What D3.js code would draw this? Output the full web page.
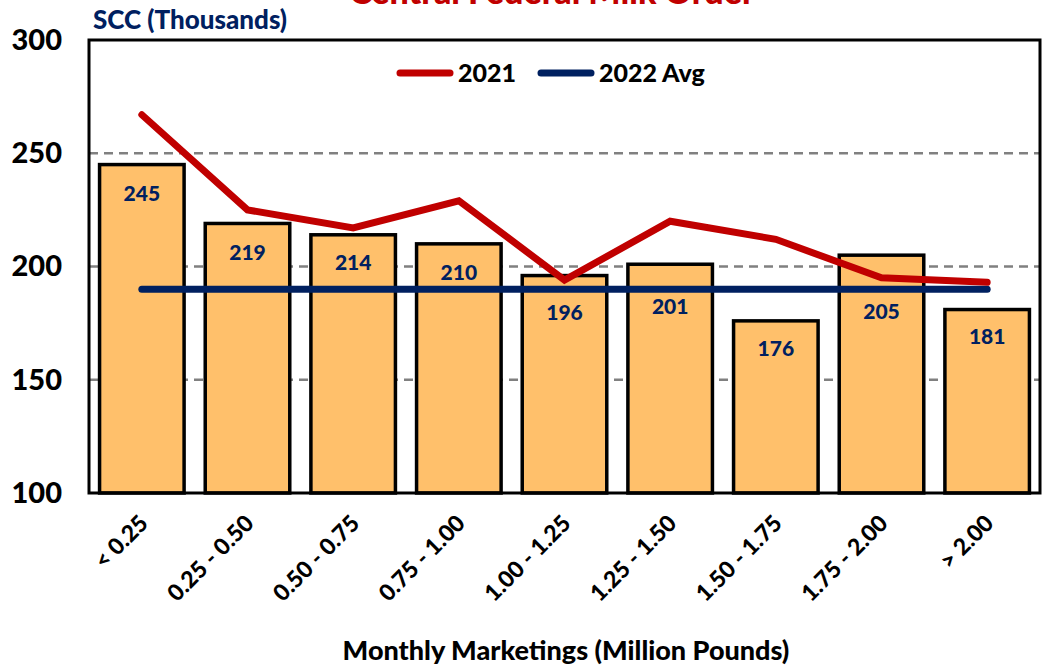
<!DOCTYPE html>
<html>
<head>
<meta charset="utf-8">
<script src="https://cdn.jsdelivr.net/npm/d3@7"></script>
<style>
  body { margin: 0; background: #fff; }
  svg { display: block; font-family: Lato, "Open Sans", sans-serif; font-weight: 900; }
</style>
</head>
<body>
<div id="chart"></div>
<script>
const categories = ["< 0.25", "0.25 - 0.50", "0.50 - 0.75", "0.75 - 1.00", "1.00 - 1.25",
                    "1.25 - 1.50", "1.50 - 1.75", "1.75 - 2.00", "> 2.00"];
const values2022 = [245, 219, 214, 210, 196, 201, 176, 205, 181];
const values2021 = [267, 225, 217, 229, 194, 220, 212, 195, 193];
const avg2022 = 190;
const yTicks = [100, 150, 200, 250, 300];
const gridTicks = [150, 200, 250];

// labels that were nudged down below the lines
const labelShift = [29, 29, 28, 29, 37, 42, 28, 56, 27];

const margin = { top: 40, right: 9, bottom: 175, left: 89 };
const width = 1049 - margin.left - margin.right;
const height = 668 - margin.top - margin.bottom;

const svg = d3.select("#chart").append("svg")
    .attr("width", 1049)
    .attr("height", 668);

const g = svg.append("g")
    .attr("transform", `translate(${margin.left},${margin.top})`);

// scales
const x = d3.scaleBand()
    .domain(categories)
    .range([0, width])
    .paddingInner(0.2)
    .paddingOuter(0.1);

const y = d3.scaleLinear()
    .domain([100, 300])
    .range([height, 0]);

const cx = d => x(d) + x.bandwidth() / 2;

// title (cut off at top, as in the original)
svg.append("text")
    .attr("x", 552)
    .attr("y", 4)
    .attr("text-anchor", "middle")
    .style("font-size", "34px")
    .style("fill", "#C00000")
    .text("Central Federal Milk Order");

svg.append("text")
    .attr("x", 93)
    .attr("y", 29)
    .style("font-size", "26px")
    .style("fill", "#002060")
    .text("SCC (Thousands)");

// gridlines
g.selectAll(".grid")
    .data(gridTicks)
    .enter().append("line")
    .attr("x1", 0)
    .attr("x2", width)
    .attr("y1", d => y(d))
    .attr("y2", d => y(d))
    .style("stroke", "#808080")
    .style("stroke-width", 2.5)
    .style("stroke-dasharray", "9,6");

// y axis labels
const yAxis = d3.axisLeft(y).tickValues(yTicks).tickSize(0).tickPadding(27);
g.append("g")
    .attr("class", "y-axis")
    .call(yAxis)
    .call(a => a.select(".domain").remove())
    .selectAll("text")
    .style("font-size", "29px")
    .style("font-family", "Lato, sans-serif")
    .style("font-weight", "900")
    .style("fill", "#000");

// bars
g.selectAll(".bar")
    .data(values2022)
    .enter().append("rect")
    .attr("class", "bar")
    .attr("x", (d, i) => x(categories[i]))
    .attr("width", x.bandwidth())
    .attr("y", d => y(d))
    .attr("height", d => height - y(d))
    .style("fill", "#FFC06B")
    .style("stroke", "#000")
    .style("stroke-width", 3.5);

// bar labels
g.selectAll(".bar-label")
    .data(values2022)
    .enter().append("text")
    .attr("x", (d, i) => cx(categories[i]))
    .attr("y", (d, i) => y(d) + labelShift[i])
    .attr("dy", "0.35em")
    .attr("text-anchor", "middle")
    .style("font-size", "21px")
    .style("fill", "#002060")
    .text(d => d);

// 2022 avg line
const avgLine = d3.line()
    .x(d => cx(d))
    .y(() => y(avg2022));

g.append("path")
    .datum(categories)
    .attr("d", avgLine)
    .style("fill", "none")
    .style("stroke", "#002060")
    .style("stroke-width", 7)
    .style("stroke-linecap", "round");

// 2021 line
const line2021 = d3.line()
    .x((d, i) => cx(categories[i]))
    .y(d => y(d));

g.append("path")
    .datum(values2021)
    .attr("d", line2021)
    .style("fill", "none")
    .style("stroke", "#C00000")
    .style("stroke-width", 7)
    .style("stroke-linecap", "round");

// frame
g.append("rect")
    .attr("x", 0)
    .attr("y", 0)
    .attr("width", width)
    .attr("height", height)
    .style("fill", "none")
    .style("stroke", "#000")
    .style("stroke-width", 3);

// x labels
g.selectAll(".x-label")
    .data(categories)
    .enter().append("text")
    .attr("transform", d => `translate(${cx(d) + 2},${height + 26}) rotate(-45)`)
    .attr("dy", "0.35em")
    .attr("text-anchor", "end")
    .style("font-size", "23px")
    .style("fill", "#000")
    .text(d => d);

svg.append("text")
    .attr("x", 566)
    .attr("y", 660)
    .attr("text-anchor", "middle")
    .style("font-size", "27px")
    .style("fill", "#000")
    .text("Monthly Marketings (Million Pounds)");

// legend
const legend = [
    { label: "2021", color: "#C00000", x: 400 },
    { label: "2022 Avg", color: "#002060", x: 541 }
];
const lg = svg.selectAll(".legend")
    .data(legend)
    .enter().append("g")
    .attr("transform", d => `translate(${d.x},73)`);

lg.append("line")
    .attr("x1", 0)
    .attr("x2", 50)
    .style("stroke", d => d.color)
    .style("stroke-width", 7)
    .style("stroke-linecap", "round");

lg.append("text")
    .attr("x", 58)
    .attr("dy", "0.35em")
    .style("font-size", "25px")
    .style("fill", "#000")
    .text(d => d.label);
</script>
</body>
</html>
